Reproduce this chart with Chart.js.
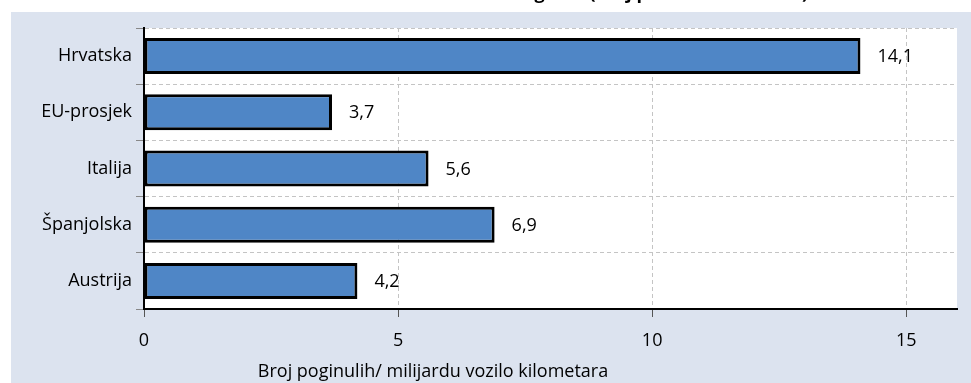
<!DOCTYPE html>
<html>
<head>
<meta charset="utf-8">
<script src="https://cdn.jsdelivr.net/npm/chart.js@4"></script>
<style>
  html, body { margin: 0; padding: 0; background: #ffffff; }
  #wrap { position: relative; width: 971px; height: 383px; }
</style>
</head>
<body>
<div id="wrap"><canvas id="chart" width="971" height="383"></canvas></div>
<script>
const countries = ["Hrvatska", "EU-prosjek", "Italija", "Španjolska", "Austrija"];
const deaths = [14.1, 3.7, 5.6, 6.9, 4.2];
const xTicks = [0, 5, 10, 15];
const axisTitle = "Broj poginulih/ milijardu vozilo kilometara";
const topTitle = "Poginuli (broj po mlrd. vozilo km)";

const FONT = "'Open Sans', 'Liberation Sans', sans-serif";
const fmt = v => v.toFixed(1).replace(".", ",");

// light panel behind the chart + the clipped heading above it
const panel = {
    id: "panel",
    beforeDraw(chart) {
        const ctx = chart.ctx;
        ctx.save();
        ctx.fillStyle = "#dce3ef";
        ctx.fillRect(11, 12, chart.width - 11, chart.height - 12);
        const a = chart.chartArea;
        ctx.fillStyle = "#ffffff";
        ctx.fillRect(a.left, a.top, a.right - a.left, a.bottom - a.top);
        ctx.fillStyle = "#000000";
        ctx.font = "bold 18px " + FONT;
        ctx.textAlign = "center";
        ctx.textBaseline = "alphabetic";
        ctx.fillText(topTitle, 660, -1.5);
        ctx.restore();
    }
};

// value labels next to each bar, and the x axis caption
const labels = {
    id: "labels",
    afterDatasetsDraw(chart) {
        const ctx = chart.ctx;
        const meta = chart.getDatasetMeta(0);
        ctx.save();
        ctx.fillStyle = "#000000";
        ctx.font = "18px " + FONT;
        ctx.textAlign = "left";
        ctx.textBaseline = "middle";
        meta.data.forEach((bar, i) => {
            ctx.fillText(fmt(deaths[i]), bar.x + 17, bar.y + 1);
        });
        ctx.textAlign = "center";
        ctx.fillText(axisTitle, 433, 372);
        ctx.restore();
    }
};

const ctx = document.getElementById("chart").getContext("2d");
const myChart = new Chart(ctx, {
    type: "bar",
    data: {
        labels: countries,
        datasets: [{
            data: deaths,
            backgroundColor: "#4f86c6",
            borderColor: "#000000",
            borderWidth: 3,
            borderSkipped: false,
            barPercentage: 0.64,
            categoryPercentage: 1,
        }],
    },
    options: {
        indexAxis: "y",
        responsive: false,
        animation: false,
        layout: { padding: { top: 28, right: 14, left: 0, bottom: 0 } },
        plugins: {
            legend: { display: false },
            tooltip: { enabled: false },
        },
        scales: {
            x: {
                min: 0,
                max: 16,
                afterBuildTicks: scale => {
                    scale.ticks = xTicks.map(v => ({ value: v }));
                },
                afterFit: scale => { scale.height = 74; },
                ticks: {
                    color: "#000000",
                    font: { family: FONT, size: 18 },
                    padding: 13,
                    callback: v => String(v),
                },
                grid: {
                    color: "#c4c4c4",
                    tickColor: "#555555",
                    tickBorderDash: [],
                    tickLength: 8,
                },
                border: { color: "#000000", width: 2, dash: [4, 3] },
            },
            y: {
                afterFit: scale => { scale.width = 144; },
                ticks: {
                    color: "#000000",
                    font: { family: FONT, size: 18 },
                    padding: 4,
                },
                grid: {
                    offset: true,
                    color: "#c4c4c4",
                    tickColor: "#888888",
                    tickBorderDash: [],
                    tickLength: 8,
                },
                border: { color: "#000000", width: 2, dash: [4, 3] },
            },
        },
    },
    plugins: [panel, labels],
});
</script>
</body>
</html>
